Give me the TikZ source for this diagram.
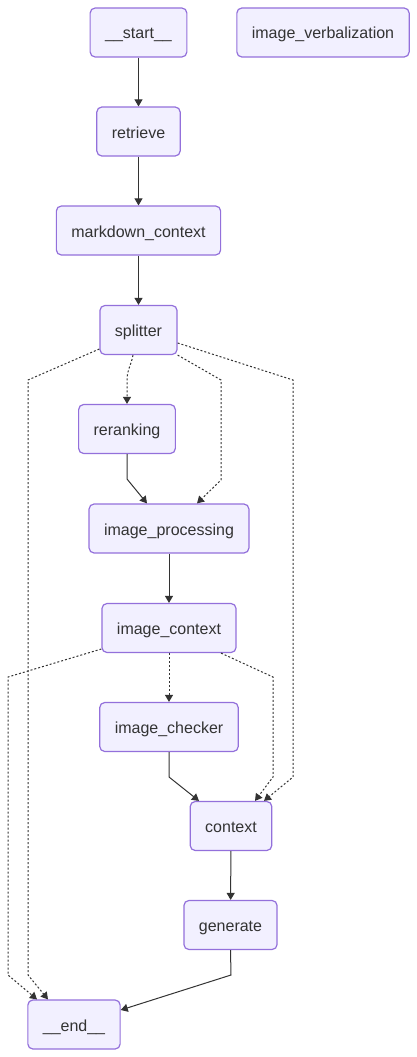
\documentclass[tikz,border=0pt]{standalone}
\usepackage{fontspec}
\setmainfont{Liberation Sans}
\usetikzlibrary{positioning,arrows.meta}
\definecolor{nodefill}{HTML}{F2F0FF}
\definecolor{nodeline}{HTML}{9370DB}
\definecolor{edgegray}{HTML}{333333}

\begin{document}
\begin{tikzpicture}[
			x=1pt, y=-1pt,
			node distance=99pt,
			main/.style = {draw=nodeline, fill=nodefill, rounded corners=5pt, line width=1.2pt,
				minimum height=49pt, inner xsep=15pt, text height=14pt, text depth=1pt,
				text=edgegray, font=\fontsize{16}{19}\selectfont},
			edge/.style = {draw=edgegray, line width=1pt, -{Triangle[length=7pt,width=8pt]}},
			cond/.style = {edge, dash pattern=on 2pt off 2pt}
		]
		\useasboundingbox (0,0) rectangle (417,1057);
		\node[main] (start) at (138.5,32.5) {\_\_start\_\_};
		\node[main, right of=start, node distance=184.5pt] (verbal) {image\_verbalization};
		% Main column.
		\node[main, below of=start] (retrieve) {retrieve};
		\node[main, below of=retrieve] (markdown) {markdown\_context};
		\node[main, below of=markdown, node distance=99.5pt] (splitter) {splitter};
		\node[main, below of=splitter, xshift=-11.5pt] (reranking) {reranking};
		\node[main, below of=reranking, xshift=42pt, node distance=99.5pt] (imgproc) {image\_processing};
		\node[main, below of=imgproc, node distance=99.5pt] (imgctx) {image\_context};
		\node[main, below of=imgctx] (checker) {image\_checker};
		\node[main, below of=checker, xshift=62pt] (context) {context};
		\node[main, below of=context, xshift=-0.5pt] (generate) {generate};
		\node[main, below of=generate, xshift=-156.5pt, node distance=99.5pt] (end) {\_\_end\_\_};

		\draw[edge] (start) to (retrieve);
		\draw[edge] (retrieve) to (markdown);
		\draw[edge] (markdown) to (splitter);
		% Branches out of splitter.
		\draw[cond] ([xshift=-5.5pt]splitter.south) to[out=-100, in=90] (127,380) -- (reranking.north);
		\draw[cond] (splitter.south east) -- (221,380) -- (221,480) -- ([xshift=28pt]imgproc.north);
		\draw[cond] ([yshift=-13pt]splitter.east) -- (293,380) -- (293,777) -- ([xshift=33pt]context.north);
		\draw[cond] ([yshift=-19pt]splitter.west) -- (28,380) -- (28,975) -- ([xshift=-26pt]end.north);
		\draw[edge] (reranking.south) -- (127,479) -- ([xshift=-22pt]imgproc.north);
		\draw[edge] (imgproc) to (imgctx);
		% Branches out of image_context.
		\draw[cond] (imgctx) to (checker);
		\draw[cond] ([xshift=52pt]imgctx.south) -- (273,677) -- (273,777) -- ([xshift=24pt]context.north);
		\draw[cond] ([yshift=-21pt]imgctx.west) -- (8,677) -- (8,975) -- ([xshift=-37pt]end.north);
		\draw[edge] (checker.south) -- (169,777) -- ([xshift=-32pt]context.north);
		\draw[edge] (context) to (generate);
		\draw[edge] (generate.south) -- (231,975) -- ([yshift=14.5pt]end.east);
	\end{tikzpicture}
\end{document}
